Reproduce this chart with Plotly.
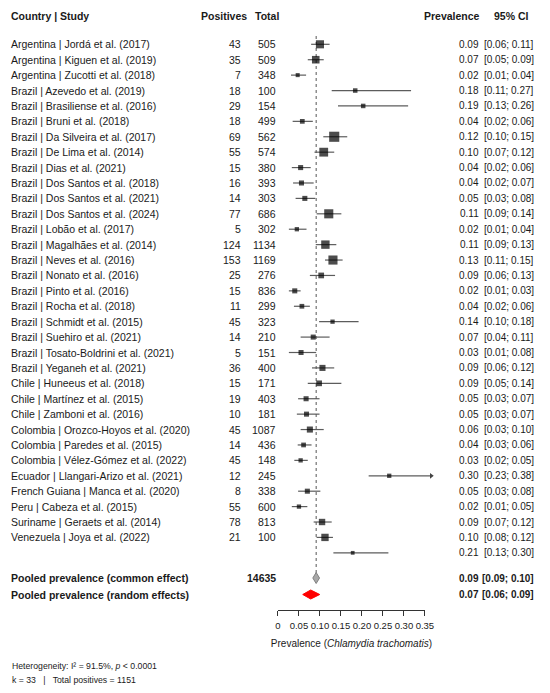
import math
import plotly.graph_objects as go

# ---- data ----
studies = [
    "Argentina | Jordá et al. (2017)", "Argentina | Kiguen et al. (2019)",
    "Argentina | Zucotti et al. (2018)", "Brazil | Azevedo et al. (2019)",
    "Brazil | Brasiliense et al. (2016)", "Brazil | Bruni et al. (2018)",
    "Brazil | Da Silveira et al. (2017)", "Brazil | De Lima et al. (2014)",
    "Brazil | Dias et al. (2021)", "Brazil | Dos Santos et al. (2018)",
    "Brazil | Dos Santos et al. (2021)", "Brazil | Dos Santos et al. (2024)",
    "Brazil | Lobão et al. (2017)", "Brazil | Magalhães et al. (2014)",
    "Brazil | Neves et al. (2016)", "Brazil | Nonato et al. (2016)",
    "Brazil | Pinto et al. (2016)", "Brazil | Rocha et al. (2018)",
    "Brazil | Schmidt et al. (2015)", "Brazil | Suehiro et al. (2021)",
    "Brazil | Tosato-Boldrini et al. (2021)", "Brazil | Yeganeh et al. (2021)",
    "Chile | Huneeus et al. (2018)", "Chile | Martínez et al. (2015)",
    "Chile | Zamboni et al. (2016)", "Colombia | Orozco-Hoyos et al. (2020)",
    "Colombia | Paredes et al. (2015)", "Colombia | Vélez-Gómez et al. (2022)",
    "Ecuador | Llangari-Arizo et al. (2021)", "French Guiana | Manca et al. (2020)",
    "Peru | Cabeza et al. (2015)", "Suriname | Geraets et al. (2014)",
    "Venezuela | Joya et al. (2022)",
]
positives = [43, 35, 7, 18, 29, 18, 69, 55, 15, 16, 14, 77, 5, 124, 153, 25, 15,
             11, 45, 14, 5, 36, 15, 19, 10, 45, 14, 45, 12, 8, 55, 78, 21]
totals = [505, 509, 348, 100, 154, 499, 562, 574, 380, 393, 303, 686, 302, 1134,
          1169, 276, 836, 299, 323, 210, 151, 400, 171, 403, 181, 1087, 436, 148,
          245, 338, 600, 813, 100]

# printed columns (the plot has one extra unlabelled row at the end)
prev_txt = [0.09, 0.07, 0.02, 0.18, 0.19, 0.04, 0.12, 0.10, 0.04, 0.04, 0.05, 0.11,
            0.02, 0.11, 0.13, 0.09, 0.02, 0.04, 0.14, 0.07, 0.03, 0.09, 0.09, 0.05,
            0.05, 0.06, 0.04, 0.03, 0.30, 0.05, 0.02, 0.09, 0.10, 0.21]
ci_lo_txt = [0.06, 0.05, 0.01, 0.11, 0.13, 0.02, 0.10, 0.07, 0.02, 0.02, 0.03, 0.09,
             0.01, 0.09, 0.11, 0.06, 0.01, 0.02, 0.10, 0.04, 0.01, 0.06, 0.05, 0.03,
             0.03, 0.03, 0.03, 0.02, 0.23, 0.03, 0.01, 0.07, 0.08, 0.13]
ci_hi_txt = [0.11, 0.09, 0.04, 0.27, 0.26, 0.06, 0.15, 0.12, 0.06, 0.07, 0.08, 0.14,
             0.04, 0.13, 0.15, 0.13, 0.03, 0.06, 0.18, 0.11, 0.08, 0.12, 0.14, 0.07,
             0.07, 0.10, 0.06, 0.05, 0.38, 0.08, 0.05, 0.12, 0.12, 0.30]

# where the boxes / whiskers are actually drawn
prev_plot = [0.100, 0.090, 0.047, 0.184, 0.203, 0.058, 0.134, 0.109, 0.054, 0.056,
             0.064, 0.121, 0.045, 0.113, 0.131, 0.103, 0.040, 0.057, 0.130, 0.084,
             0.055, 0.106, 0.098, 0.067, 0.068, 0.076, 0.061, 0.054, 0.265, 0.070,
             0.050, 0.105, 0.112, 0.178]
lo_plot = [0.079, 0.071, 0.031, 0.128, 0.143, 0.035, 0.108, 0.087, 0.033, 0.036,
           0.042, 0.092, 0.026, 0.090, 0.112, 0.076, 0.026, 0.038, 0.098, 0.054,
           0.026, 0.081, 0.071, 0.048, 0.045, 0.054, 0.047, 0.039, 0.216, 0.048,
           0.033, 0.085, 0.092, 0.132]
hi_plot = [0.123, 0.109, 0.067, 0.317, 0.310, 0.083, 0.165, 0.134, 0.078, 0.085,
           0.089, 0.151, 0.068, 0.139, 0.154, 0.136, 0.054, 0.076, 0.192, 0.123,
           0.091, 0.134, 0.151, 0.099, 0.099, 0.109, 0.080, 0.071, 0.368, 0.101,
           0.070, 0.128, 0.131, 0.263]
# study weights (%), drive the box size
weights = [6.4, 5.6, 1.6, 2.0, 2.0, 2.2, 10.0, 7.6, 2.5, 2.5, 2.5, 8.1, 1.8, 6.9,
           8.1, 3.2, 2.5, 2.2, 1.8, 2.5, 2.5, 3.6, 3.2, 2.5, 2.5, 3.6, 2.2, 1.8,
           1.8, 2.5, 1.8, 4.0, 5.3, 1.4]

common_txt = (0.09, 0.09, 0.10)
random_txt = (0.07, 0.06, 0.09)
common_plot = (0.083, 0.091, 0.099)   # lo, est, hi of the grey diamond
random_plot = (0.059, 0.078, 0.0995)  # red diamond

x_ticks = [0, 0.05, 0.10, 0.15, 0.20, 0.25, 0.30, 0.35]
x_tick_labels = ["0", "0.05", "0.10", "0.15", "0.20", "0.25", "0.30", "0.35"]
i2, p_het = 91.5, "0.0001"

# ---- geometry (page pixels; the html body adds an 8px margin) ----
OFF = 8
W, H = 550 - OFF, 693 - 2 * OFF
X0_T = 281.0                 # page pixel of prevalence 0
PXU = 429.4                  # pixels per unit prevalence
AX_MAX = 0.35
ROW0, STEP = 44.3, 15.41
Y_COMMON, Y_RANDOM = 578.0, 594.5
Y_AXIS = 610.0
FONT = "Liberation Sans, Arial, sans-serif"
INK = "#1a1a1a"

X0 = X0_T - OFF              # figure pixel of prevalence 0
row_y = [ROW0 + STEP * i for i in range(len(prev_plot))]

fig = go.Figure()

# dummy trace so the visible prevalence axis gets drawn (added first, so it sits below)
fig.add_trace(go.Scatter(x=[0, AX_MAX], y=[-50, -50], xaxis="x2", yaxis="y",
                         mode="markers", marker=dict(opacity=0), hoverinfo="skip"))

# confidence interval whiskers
xs, ys = [], []
for lo, hi, y in zip(lo_plot, hi_plot, row_y):
    xs += [lo, hi - 0.003 if hi > AX_MAX else hi, None]
    ys += [y, y, None]
fig.add_trace(go.Scatter(x=xs, y=ys, mode="lines",
                         line=dict(color="#5c5c5c", width=1.2), hoverinfo="skip"))

# arrow heads for whiskers running past the axis
arr = [i for i, h in enumerate(hi_plot) if h > AX_MAX]
fig.add_trace(go.Scatter(x=[hi_plot[i] - 0.003 for i in arr], y=[row_y[i] for i in arr],
                         mode="markers", hoverinfo="skip",
                         marker=dict(symbol="triangle-right", size=5, color="#444")))

# reference line at the common-effect estimate
fig.add_trace(go.Scatter(x=[common_plot[1]] * 2, y=[36, Y_COMMON - 5], mode="lines",
                         line=dict(color="#555", width=1, dash="dot"), hoverinfo="skip"))

# study boxes
fig.add_trace(go.Scatter(x=prev_plot, y=row_y, mode="markers", hoverinfo="skip",
                         marker=dict(symbol="square", color="black",
                                     size=[3.2 * math.sqrt(w) for w in weights],
                                     line=dict(width=0))))

# pooled diamonds
def diamond(vals, y, half, fill, edge):
    lo, est, hi = vals
    fig.add_trace(go.Scatter(x=[lo, est, hi, est, lo], y=[y, y - half, y, y + half, y],
                             mode="lines", fill="toself", fillcolor=fill,
                             line=dict(color=edge, width=1), hoverinfo="skip"))

diamond(common_plot, Y_COMMON, 5.5, "#a8a8a8", "#808080")
diamond(random_plot, Y_RANDOM, 4.5, "#ff0000", "#ff0000")


def txt(x_px, y_px, s, anchor="left", size=10.5, bold=False):
    if bold:
        s = "<b>" + s + "</b>"
    fig.add_annotation(x=(x_px - OFF) / W, xref="paper", y=y_px, yref="y", text=s,
                       showarrow=False, xanchor=anchor, yanchor="middle",
                       borderpad=0, borderwidth=0,
                       font=dict(family=FONT, size=size, color=INK))


# header
txt(8, 15.7, "Country | Study", bold=True)
txt(249, 15.7, "Positives", "right", bold=True)
txt(282, 15.7, "Total", "right", bold=True)
txt(488, 15.7, "Prevalence", "right", bold=True)
txt(537.5, 15.7, "95% CI", "right", bold=True)

# study rows
for i, y in enumerate(row_y):
    if i < len(studies):
        txt(8, y, studies[i])
        txt(243, y, str(positives[i]), "right")
        txt(279, y, str(totals[i]), "right")
    txt(487, y, f"{prev_txt[i]:.2f}", "right", size=10)
    txt(543, y, f"[{ci_lo_txt[i]:.2f}; {ci_hi_txt[i]:.2f}]", "right", size=10)

# pooled rows
txt(8, Y_COMMON, "Pooled prevalence (common effect)", bold=True)
txt(279, Y_COMMON, str(sum(totals)), "right", bold=True)
txt(487, Y_COMMON, f"{common_txt[0]:.2f}", "right", size=10, bold=True)
txt(543, Y_COMMON, f"[{common_txt[1]:.2f}; {common_txt[2]:.2f}]", "right", size=10, bold=True)
txt(8, Y_RANDOM, "Pooled prevalence (random effects)", bold=True)
txt(487, Y_RANDOM, f"{random_txt[0]:.2f}", "right", size=10, bold=True)
txt(543, Y_RANDOM, f"[{random_txt[1]:.2f}; {random_txt[2]:.2f}]", "right", size=10, bold=True)

# footer
txt(9, 666, f"Heterogeneity: I² = {i2}%, <i>p</i> &lt; {p_het}", size=8.7)
sp = "\u00a0\u00a0\u00a0"
txt(9, 680, f"k = {len(positives)}{sp}|{sp}Total positives = {sum(positives)}", size=8.7)

fig.update_layout(
    width=W, height=H, margin=dict(l=0, r=0, t=0, b=0),
    paper_bgcolor="white", plot_bgcolor="rgba(0,0,0,0)", showlegend=False,
    xaxis=dict(domain=[0, 1], range=[-X0 / PXU, (W - X0) / PXU], visible=False),
    yaxis=dict(domain=[0, 1], range=[OFF + H, OFF], visible=False),
    xaxis2=dict(domain=[X0 / W, (X0 + AX_MAX * PXU) / W], range=[0, AX_MAX],
                anchor="free", position=1 - (Y_AXIS - OFF) / H, side="bottom",
                tickvals=x_ticks, ticktext=x_tick_labels, ticks="outside",
                ticklen=5, tickcolor="#333", showline=True, linecolor="#333",
                linewidth=1, showgrid=False, zeroline=False, ticklabelstandoff=2,
                tickfont=dict(family=FONT, size=9.5, color=INK),
                title=dict(text="Prevalence (<i>Chlamydia trachomatis</i>)",
                           font=dict(family=FONT, size=10, color=INK), standoff=9)),
)

fig.write_html("out.html")
